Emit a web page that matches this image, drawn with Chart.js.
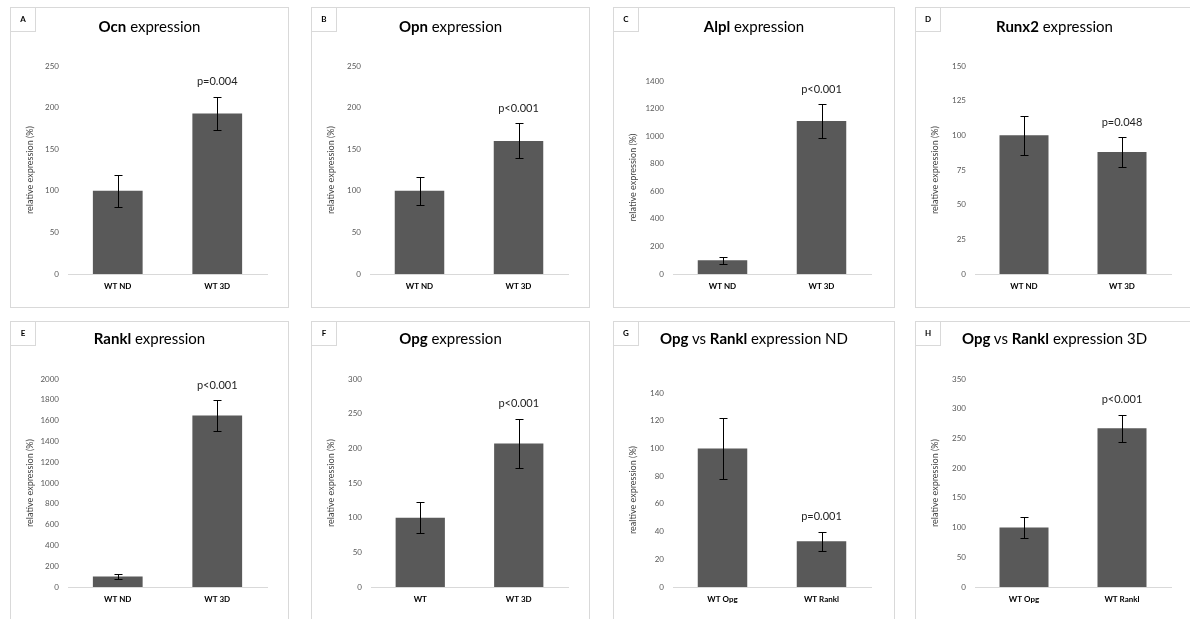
<!DOCTYPE html>
<html><head><meta charset="utf-8">
<script src="https://cdn.jsdelivr.net/npm/chart.js@4.4.0/dist/chart.umd.min.js"></script>
<style>
body{margin:0;background:#fff;width:1190px;height:619px;overflow:hidden;position:relative;font-family:Lato,'Open Sans',sans-serif;}
.panel{position:absolute;border:1px solid #d9d9d9;box-sizing:border-box;background:#fff;}
.panel canvas{position:absolute;left:-1px;top:-1px;}
.tag{position:absolute;left:-1px;top:-1px;width:26px;height:25px;border:1px solid #d9d9d9;box-sizing:border-box;font-size:8px;font-weight:bold;line-height:23px;text-align:center;color:#000;z-index:2;}
.ttl{position:absolute;left:0;right:0;text-align:center;font-size:15px;color:#000;white-space:nowrap;z-index:2;}
</style></head>
<body>
<script>
// ---------- data ----------
const panelLetters = ['A','B','C','D','E','F','G','H'];
const panelTitles = ['**Ocn** expression','**Opn** expression','**Alpl** expression','**Runx2** expression',
  '**Rankl** expression','**Opg** expression','**Opg** vs **Rankl** expression ND','**Opg** vs **Rankl** expression 3D'];
const yTitles = ['relative expression (%)','relative expression (%)','relative expression (%)','relative expression (%)',
  'relative expression (%)','relative expression (%)','realtive expression (%)','relative expression (%)'];

const catsA = ['WT ND','WT 3D'];
const catsB = ['WT ND','WT 3D'];
const catsC = ['WT ND','WT 3D'];
const catsD = ['WT ND','WT 3D'];
const catsE = ['WT ND','WT 3D'];
const catsF = ['WT','WT 3D'];
const catsG = ['WT Opg','WT Rankl'];
const catsH = ['WT Opg','WT Rankl'];

const ocnMean = [100, 193];   const ocnErr = [19, 20];
const opnMean = [100, 160];   const opnErr = [17, 21];
const alplMean = [100, 1110]; const alplErr = [24, 120];
const runx2Mean = [100, 88];  const runx2Err = [14, 10.5];
const ranklMean = [100, 1650];const ranklErr = [22, 148];
const opgMean = [100, 207];   const opgErr = [22, 36];
const ndMean = [100, 33];     const ndErr = [22, 7];
const d3Mean = [100, 267];    const d3Err = [18, 23];

const pLabels = ['p=0.004','p<0.001','p<0.001','p=0.048','p<0.001','p<0.001','p=0.001','p<0.001'];
const yMaxes = [250, 250, 1400, 150, 2000, 300, 140, 350];
const ySteps = [50, 50, 200, 25, 200, 50, 20, 50];

const allCats = [catsA,catsB,catsC,catsD,catsE,catsF,catsG,catsH];
const allMeans = [ocnMean,opnMean,alplMean,runx2Mean,ranklMean,opgMean,ndMean,d3Mean];
const allErrs = [ocnErr,opnErr,alplErr,runx2Err,ranklErr,opgErr,ndErr,d3Err];

// ---------- layout (box x,y,w,h ; plot left,right,top,bottom relative to box) ----------
const boxes = [[10,7,279,301],[311,7,279,301],[613,7,282,301],[915,7,279,301],
               [10,321,279,300],[311,321,279,300],[613,321,282,300],[915,321,279,300]];
const plots = [[58,257,59,267],[59,257,59,267],[60,258,74,267],[60,256,59,267],
               [58,257,58,266],[60,257,58,266],[60,258,72,266],[60,256,58,266]];
const FONT = "Lato, 'Open Sans', sans-serif";

function titleHTML(s){
  return s.replace(/\*\*(.+?)\*\*/g,'<b>$1</b>');
}

for (let k=0;k<8;k++){
  const [bx,by,bw,bh] = boxes[k];
  const [pl,pr,pt,pb] = plots[k];
  const div = document.createElement('div');
  div.className='panel';
  div.style.left=bx+'px'; div.style.top=by+'px'; div.style.width=bw+'px'; div.style.height=bh+'px';
  const tag = document.createElement('div'); tag.className='tag'; tag.textContent=panelLetters[k];
  const ttl = document.createElement('div'); ttl.className='ttl'; ttl.innerHTML=titleHTML(panelTitles[k]);
  ttl.style.top = (k<4?9:7)+'px';
  const cv = document.createElement('canvas'); cv.width=bw; cv.height=bh;
  cv.style.width=bw+'px'; cv.style.height=bh+'px';
  div.appendChild(cv); div.appendChild(tag); div.appendChild(ttl);
  document.body.appendChild(div);

  const errs = allErrs[k];
  const pText = pLabels[k];
  const errPlugin = {
    id:'errbars'+k,
    afterDatasetsDraw(chart){
      const ctx = chart.ctx, ys = chart.scales.y, meta = chart.getDatasetMeta(0);
      const data = chart.data.datasets[0].data;
      ctx.save();
      ctx.strokeStyle='#000'; ctx.lineWidth=1;
      meta.data.forEach((bar,i)=>{
        const x = Math.round(bar.x)+0.5;
        const yt = Math.round(ys.getPixelForValue(data[i]+errs[i]))+0.5;
        const yb = Math.round(ys.getPixelForValue(data[i]-errs[i]))+0.5;
        ctx.beginPath();
        ctx.moveTo(x,yt); ctx.lineTo(x,yb);
        ctx.moveTo(x-4,yt); ctx.lineTo(x+4,yt);
        ctx.moveTo(x-4,yb); ctx.lineTo(x+4,yb);
        ctx.stroke();
      });
      const b = meta.data[1];
      const yTop = ys.getPixelForValue(data[1]+errs[1]);
      ctx.fillStyle='#222'; ctx.font='11px '+FONT; ctx.textAlign='center'; ctx.textBaseline='middle';
      ctx.fillText(pText, b.x, yTop-15);
      ctx.restore();
    }
  };

  new Chart(cv, {
    type:'bar',
    data:{labels: allCats[k], datasets:[{data: allMeans[k], backgroundColor:'#595959', borderWidth:0,
      barPercentage:0.5, categoryPercentage:1.0}]},
    options:{
      responsive:false, animation:false, maintainAspectRatio:false,
      layout:{padding:{left:0, top:pt, right:bw-pr, bottom:0}},
      plugins:{legend:{display:false}, tooltip:{enabled:false}, title:{display:false}},
      scales:{
        x:{grid:{display:false, drawTicks:false}, border:{display:true, color:'#d9d9d9', width:1},
           ticks:{font:{size:8, weight:'bold', family:FONT}, color:'#000', padding:8},
           afterFit(s){ s.height = bh - pb; }},
        y:{min:0, max:yMaxes[k], grid:{display:false, drawTicks:false}, border:{display:false},
           ticks:{stepSize:ySteps[k], font:{size:8, family:FONT}, color:'#595959', padding:9,
                  callback:(v)=>String(v)},
           title:{display:true, text:yTitles[k], font:{size:9, family:FONT}, color:'#404040', padding:{top:15,bottom:0}},
           afterFit(s){ s.width = pl; }}
      }
    },
    plugins:[errPlugin]
  });
}
</script>
</body></html>
